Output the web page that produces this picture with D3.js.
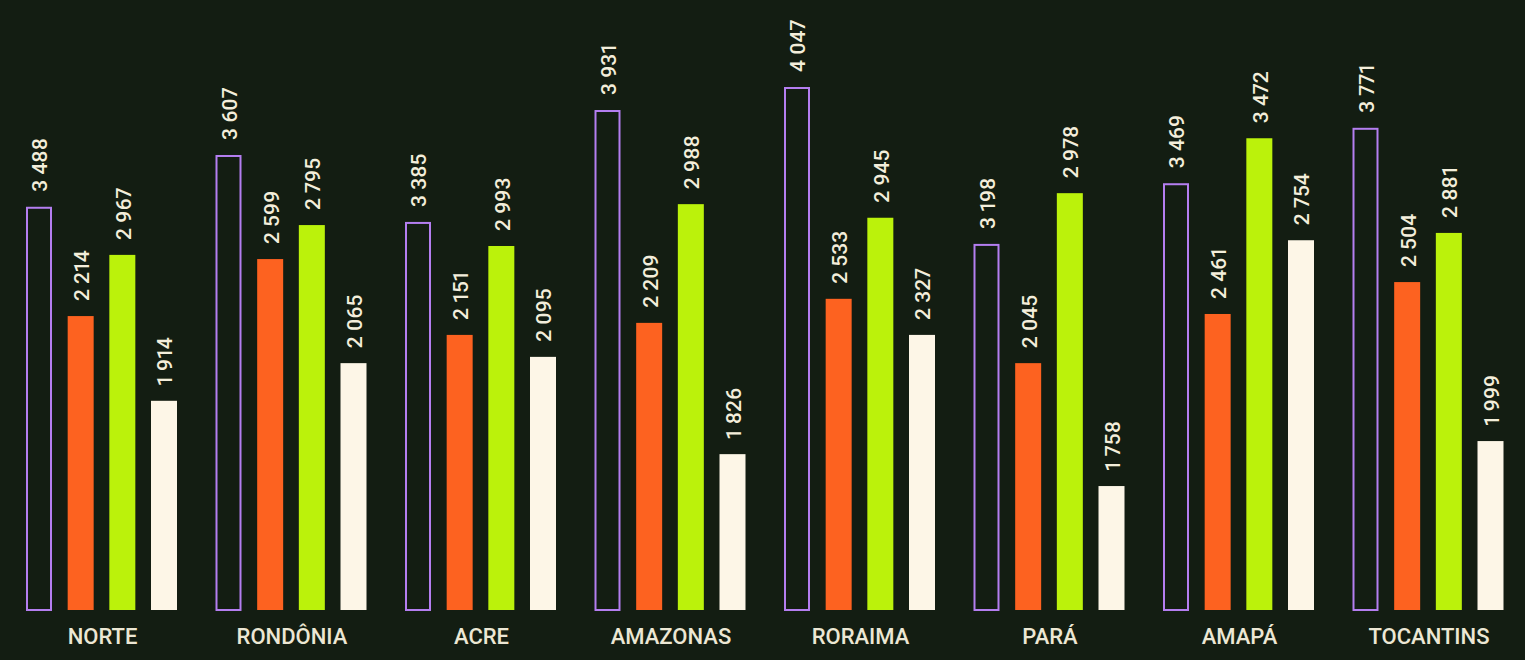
<!DOCTYPE html>
<html lang="pt">
<head>
    <meta charset="UTF-8">
    <title>Região Norte</title>
    <style>
        html, body { margin: 0; padding: 0; background: #131d12; }
        #chart { width: 1525px; height: 660px; }
        text { font-family: Roboto, "Noto Sans", sans-serif; fill: #f3eedb; font-variant-numeric: proportional-nums; }
    </style>
</head>
<body>
    <div id="chart"></div>

    <script src="https://d3js.org/d3.v7.min.js"></script>
    <script>
        // Categories (states)
        var categories = ["NORTE", "RONDÔNIA", "ACRE", "AMAZONAS", "RORAIMA", "PARÁ", "AMAPÁ", "TOCANTINS"];
        var seriesKeys = ["s1", "s2", "s3", "s4"];

        // Numbers printed above each bar
        var labelsS1 = [3488, 3607, 3385, 3931, 4047, 3198, 3469, 3771];
        var labelsS2 = [2214, 2599, 2151, 2209, 2533, 2045, 2461, 2504];
        var labelsS3 = [2967, 2795, 2993, 2988, 2945, 2978, 3472, 2881];
        var labelsS4 = [1914, 2065, 2095, 1826, 2327, 1758, 2754, 1999];

        // Bar lengths (% of the tallest bar)
        var heightsS1 = [77.1, 87.0, 74.2, 95.6, 100, 70.0, 81.6, 92.2];
        var heightsS2 = [56.2, 67.1, 52.6, 54.9, 59.5, 47.2, 56.6, 62.7];
        var heightsS3 = [67.9, 73.6, 69.6, 77.6, 75.0, 79.7, 90.2, 72.1];
        var heightsS4 = [40.0, 47.2, 48.4, 29.8, 52.6, 23.7, 70.7, 32.3];

        var labels = [labelsS1, labelsS2, labelsS3, labelsS4];
        var heights = [heightsS1, heightsS2, heightsS3, heightsS4];
        var colors = ["none", "#fd6220", "#bbf20b", "#fdf6e7"];

        var width = 1525, height = 660;
        var baseY = 610, topY = 87;

        var svg = d3.select("#chart").append("svg")
            .attr("width", width)
            .attr("height", height);

        svg.append("rect")
            .attr("width", width)
            .attr("height", height)
            .attr("fill", "#131d12");

        var x0 = d3.scaleBand()
            .domain(categories)
            .range([26, 1503.5])
            .paddingInner(38.5 / 189.5)
            .paddingOuter(0);

        var x1 = d3.scaleBand()
            .domain(seriesKeys)
            .range([0, x0.bandwidth()])
            .paddingInner(0.376)
            .paddingOuter(0);

        var y = d3.scaleLinear().domain([0, 100]).range([baseY, topY]);

        // thousands separated by a space
        function fmt(v) {
            var s = String(v);
            return s.length > 3 ? s.slice(0, s.length - 3) + " " + s.slice(-3) : s;
        }

        // build flat list
        var data = [];
        categories.forEach(function(c, i) {
            seriesKeys.forEach(function(k, j) {
                data.push({ cat: c, key: k, idx: j, h: heights[j][i], label: labels[j][i] });
            });
        });

        var g = svg.append("g");

        // bars (first series is an outline only)
        g.selectAll("rect.bar")
            .data(data)
            .enter().append("rect")
            .attr("class", "bar")
            .attr("x", function(d) { return x0(d.cat) + x1(d.key) + (d.idx === 0 ? 1 : 0); })
            .attr("y", function(d) { return y(d.h) + (d.idx === 0 ? 1 : 0); })
            .attr("width", function(d) { return x1.bandwidth() - (d.idx === 0 ? 2 : 0); })
            .attr("height", function(d) { return baseY - y(d.h) - (d.idx === 0 ? 1 : 0); })
            .attr("fill", function(d) { return colors[d.idx]; })
            .attr("stroke", function(d) { return d.idx === 0 ? "#b47ef0" : "none"; })
            .attr("stroke-width", 2);

        // value labels (rotated)
        g.selectAll("text.val")
            .data(data)
            .enter().append("text")
            .attr("class", "val")
            .attr("transform", function(d) {
                var cx = x0(d.cat) + x1(d.key) + x1.bandwidth() / 2 + 1;
                return "translate(" + cx + "," + (y(d.h) - 15) + ") rotate(-90)";
            })
            .attr("dy", "0.35em")
            .attr("font-size", "21px")
            .attr("font-weight", 500)
            .attr("text-anchor", "start")
            .text(function(d) { return fmt(d.label); });

        // category labels
        g.selectAll("text.cat")
            .data(categories)
            .enter().append("text")
            .attr("class", "cat")
            .attr("x", function(d) { return x0(d) + x0.bandwidth() / 2 + 1; })
            .attr("y", 644)
            .attr("text-anchor", "middle")
            .attr("font-size", "22px")
            .attr("font-weight", 500)
            .style("fill", "#ece7d4")
            .text(function(d) { return d; });
    </script>
</body>
</html>
